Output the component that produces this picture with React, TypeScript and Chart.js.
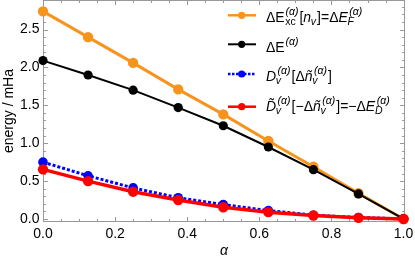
import React, { useEffect, useRef } from "react";
import { Chart, registerables } from "chart.js";

Chart.register(...registerables);

// ---- data ----
const alpha = [0, 0.125, 0.25, 0.375, 0.5, 0.625, 0.75, 0.875, 1.0];
const dExcF = [2.74, 2.4, 2.06, 1.71, 1.38, 1.03, 0.69, 0.34, 0.0];
const dE = [2.09, 1.9, 1.7, 1.47, 1.23, 0.95, 0.65, 0.33, 0.0];
const dV = [0.75, 0.57, 0.41, 0.28, 0.19, 0.11, 0.05, 0.02, 0.0];
const dVTilde = [0.655, 0.5, 0.36, 0.25, 0.155, 0.09, 0.045, 0.015, 0.0];

const xMajorTicks = [0, 0.2, 0.4, 0.6, 0.8, 1.0];
const xMinorTicks = [0.05, 0.1, 0.15, 0.25, 0.3, 0.35, 0.45, 0.5, 0.55, 0.65, 0.7, 0.75, 0.85, 0.9, 0.95];
const yMajorTicks = [0, 0.5, 1.0, 1.5, 2.0, 2.5];
const yMinorTicks = [0.1, 0.2, 0.3, 0.4, 0.6, 0.7, 0.8, 0.9, 1.1, 1.2, 1.3, 1.4, 1.6, 1.7, 1.8, 1.9, 2.1, 2.2, 2.3, 2.4, 2.6, 2.7, 2.8];

const yTitle = "energy / mHa";
const xTitle = "α";

type Tok = { t: string; it?: boolean; sub?: string; subIt?: boolean; sup?: string };

// legend labels (rich text)
const legendLabels: Tok[][] = [
  [
    { t: "ΔE", sub: "xc", sup: "(α)" },
    { t: "[" },
    { t: "n", it: true, sub: "v", subIt: true },
    { t: "]=Δ" },
    { t: "E", it: true, sub: "F", subIt: true, sup: "(α)" },
  ],
  [{ t: "ΔE", sup: "(α)" }],
  [
    { t: "D", it: true, sub: "v", subIt: true, sup: "(α)" },
    { t: "[Δ" },
    { t: "n\u0303", it: true, sub: "v", subIt: true, sup: "(α)" },
    { t: "]" },
  ],
  [
    { t: "D\u0303", it: true, sub: "v", subIt: true, sup: "(α)" },
    { t: "[−Δ" },
    { t: "n\u0303", it: true, sub: "v", subIt: true, sup: "(α)" },
    { t: "]=−Δ" },
    { t: "E", it: true, sub: "D", subIt: true, sup: "(α)" },
  ],
];

const ORANGE = "#F7941E";
const BLACK = "#000000";
const BLUE = "#0000FF";
const RED = "#FF0000";
const FRAME = "#999999";
const FRAME_W = 1;

const FONT = '"Liberation Sans", Arial, sans-serif';

const seriesStyles = [
  { color: ORANGE, width: 3, radius: 5.2, dash: [] as number[] },
  { color: BLACK, width: 2, radius: 4.6, dash: [] as number[] },
  { color: BLUE, width: 3, radius: 4.8, dash: [3, 2] },
  { color: RED, width: 3.5, radius: 5.2, dash: [] as number[] },
];

function drawRich(ctx: CanvasRenderingContext2D, x: number, y: number, toks: Tok[], main: number, script: number) {
  ctx.textAlign = "left";
  ctx.textBaseline = "alphabetic";
  for (const tk of toks) {
    ctx.font = `${tk.it ? "italic " : ""}${main}px ${FONT}`;
    ctx.fillText(tk.t, x, y);
    x += ctx.measureText(tk.t).width;
    let w = 0;
    if (tk.sub) {
      ctx.font = `${tk.subIt ? "italic " : ""}${script}px ${FONT}`;
      const sx = x + (tk.it ? -0.3 : 0.5);
      ctx.fillText(tk.sub, sx, y + 3.3);
      w = Math.max(w, ctx.measureText(tk.sub).width + (sx - x));
    }
    if (tk.sup) {
      ctx.font = `italic ${script}px ${FONT}`;
      const sx = x + (tk.it ? 1.5 : 0.8);
      ctx.fillText(tk.sup, sx, y - 7);
      w = Math.max(w, ctx.measureText(tk.sup).width + (sx - x));
    }
    x += w > 0 ? w + 1 : 0;
  }
}

function drawFrame(chart: any) {
  const ctx: CanvasRenderingContext2D = chart.ctx;
  const area = chart.chartArea;
  const L = Math.round(area.left);
  const R = Math.round(area.right);
  const T = Math.round(area.top);
  const B = Math.round(area.bottom);
  const xs = chart.scales.x;
  const ys = chart.scales.y;
  const w = FRAME_W;
  ctx.save();
  ctx.fillStyle = FRAME;
  ctx.fillRect(L, T, w, B - T);
  ctx.fillRect(R - w, T, w, B - T);
  ctx.fillRect(L, B - w, R - L, w);
  ctx.fillRect(L, T, R - L, w);
  const xt = (vals: number[], len: number) => {
    for (const v of vals) {
      const px = Math.round(xs.getPixelForValue(v));
      ctx.fillRect(px, B - len, 1, len);
      ctx.fillRect(px, T, 1, len);
    }
  };
  const yt = (vals: number[], len: number) => {
    for (const v of vals) {
      const py = Math.round(ys.getPixelForValue(v));
      ctx.fillRect(L, py, len, 1);
      ctx.fillRect(R - len, py, len, 1);
    }
  };
  xt(xMajorTicks, 5);
  xt(xMinorTicks, 3);
  yt(yMajorTicks, 5);
  yt(yMinorTicks, 3);
  ctx.restore();
}

const framePlugin = {
  id: "framePlugin",
  beforeDatasetsDraw(chart: any) {
    drawFrame(chart);
  },
  afterDraw(chart: any) {
    const ctx: CanvasRenderingContext2D = chart.ctx;
    const lineY = [15.3, 44.3, 74, 106.7];
    const baseY = [21.5, 51.5, 81, 111];
    ctx.save();
    legendLabels.forEach((toks, i) => {
      const s = seriesStyles[i];
      ctx.strokeStyle = s.color;
      ctx.lineWidth = i === 1 ? 2 : 2.5;
      ctx.setLineDash(s.dash.length ? [2.5, 1.5] : []);
      ctx.beginPath();
      ctx.moveTo(228, lineY[i]);
      ctx.lineTo(256, lineY[i]);
      ctx.stroke();
      ctx.setLineDash([]);
      ctx.fillStyle = s.color;
      ctx.beginPath();
      ctx.arc(241.7, lineY[i], 3.6, 0, Math.PI * 2);
      ctx.fill();
      ctx.fillStyle = "#000";
      drawRich(ctx, 266, baseY[i], toks, 14, 10.5);
    });
    ctx.restore();
  },
};

const fmt = (v: number) => v.toFixed(1);

export default function App() {
  const ref = useRef<HTMLCanvasElement>(null);
  useEffect(() => {
    if (!ref.current) return;
    const seriesData = [dExcF, dE, dV, dVTilde];
    const orders = [4, 3, 2, 1];
    const chart = new Chart(ref.current, {
      type: "line",
      data: {
        datasets: seriesData.map((arr, i) => ({
          data: alpha.map((a, j) => ({ x: a, y: arr[j] })),
          borderColor: seriesStyles[i].color,
          backgroundColor: seriesStyles[i].color,
          borderWidth: seriesStyles[i].width,
          borderDash: seriesStyles[i].dash,
          pointRadius: seriesStyles[i].radius,
          pointBorderWidth: 0,
          pointBackgroundColor: seriesStyles[i].color,
          tension: 0,
          fill: false,
          clip: false as any,
          order: orders[i],
        })),
      },
      options: {
        responsive: false,
        animation: false,
        layout: { autoPadding: false, padding: { left: 0, right: 10, top: 0, bottom: 0 } },
        plugins: { legend: { display: false }, tooltip: { enabled: false } },
        scales: {
          x: {
            type: "linear",
            min: 0,
            max: 1.004,
            border: { display: false },
            grid: { display: false, drawTicks: false, tickLength: 0 },
            afterBuildTicks: (s: any) => {
              s.ticks = xMajorTicks.map((v) => ({ value: v }));
            },
            afterFit: (s: any) => {
              s.height = 39;
              s.paddingLeft = 0;
              s.paddingRight = 0;
            },
            ticks: {
              color: "#000",
              padding: 4,
              maxRotation: 0,
              autoSkip: false,
              font: { family: FONT, size: 14 },
              callback: (v: any) => fmt(Number(v)),
            },
            title: {
              display: true,
              text: xTitle,
              color: "#000",
              font: { family: FONT, size: 14, style: "italic" },
              padding: { top: 0, bottom: 1.5 },
            },
          },
          y: {
            type: "linear",
            min: -0.04,
            max: 2.89,
            border: { display: false },
            grid: { display: false, drawTicks: false, tickLength: 0 },
            afterBuildTicks: (s: any) => {
              s.ticks = yMajorTicks.map((v) => ({ value: v }));
            },
            afterFit: (s: any) => {
              s.width = 43;
              s.paddingTop = 0;
              s.paddingBottom = 0;
            },
            ticks: {
              color: "#000",
              padding: 3.5,
              autoSkip: false,
              font: { family: FONT, size: 14 },
              callback: (v: any) => fmt(Number(v)),
            },
            title: {
              display: true,
              text: yTitle,
              color: "#000",
              font: { family: FONT, size: 14 },
              padding: { top: 1, bottom: 0 },
            },
          },
        },
      },
      plugins: [framePlugin],
    });
    return () => chart.destroy();
  }, []);
  return (
    <div style={{ position: "fixed", left: 0, top: 0, width: 415, height: 261, background: "#fff" }}>
      <canvas ref={ref} width={415} height={261} />
    </div>
  );
}
